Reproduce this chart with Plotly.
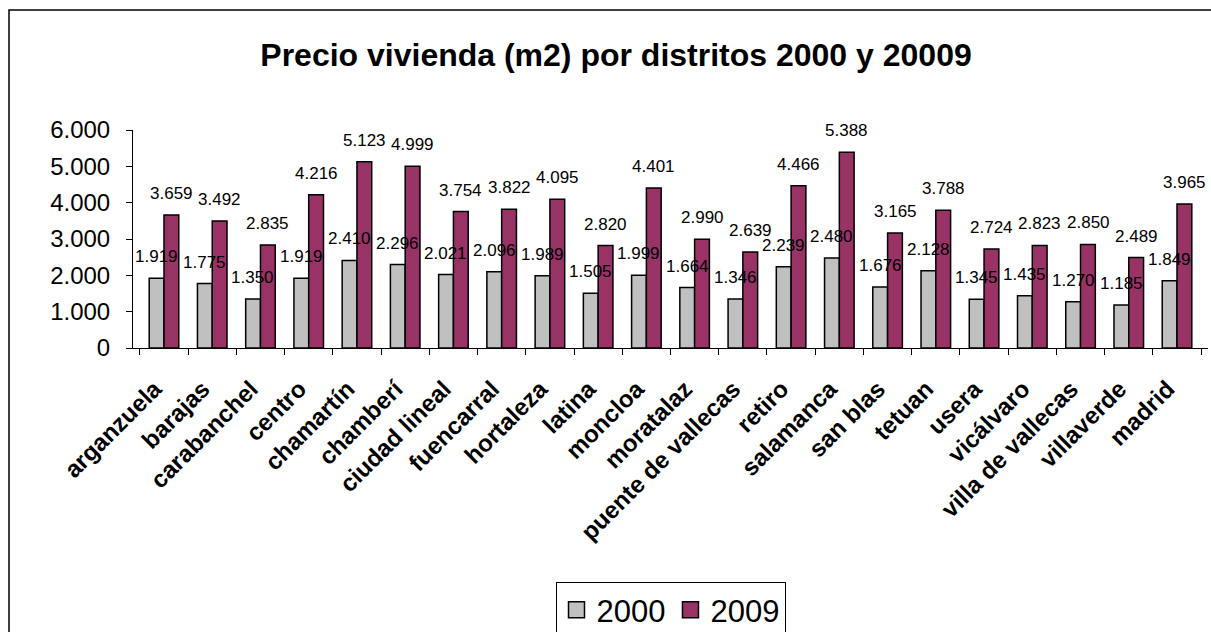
import plotly.graph_objects as go

distritos = ["arganzuela", "barajas", "carabanchel", "centro", "chamartín", "chamberí",
             "ciudad lineal", "fuencarral", "hortaleza", "latina", "moncloa", "moratalaz",
             "puente de vallecas", "retiro", "salamanca", "san blas", "tetuan", "usera",
             "vicálvaro", "villa de vallecas", "villaverde", "madrid"]
precio_2000 = [1919, 1775, 1350, 1919, 2410, 2296, 2021, 2096, 1989, 1505, 1999, 1664,
               1346, 2239, 2480, 1676, 2128, 1345, 1435, 1270, 1185, 1849]
precio_2009 = [3659, 3492, 2835, 4216, 5123, 4999, 3754, 3822, 4095, 2820, 4401, 2990,
               2639, 4466, 5388, 3165, 3788, 2724, 2823, 2850, 2489, 3965]
series = [("2000", precio_2000, "#C0C0C0"), ("2009", precio_2009, "#993366")]

W, H = 1211, 632
L, R, T, B = 133, 3, 130, 284
pw = W - L - R
ph = H - T - B
BARGAP = 0.387
cat_w = pw / len(distritos)
bar_w = cat_w * (1 - BARGAP) / 2

fig = go.Figure()
for name, vals, col in series:
    fig.add_trace(go.Bar(
        x=distritos, y=vals, name=name, legendgroup=name, showlegend=False,
        marker=dict(color=col, line=dict(color="#000000", width=1.5)),
        cliponaxis=False,
    ))
# legend entries with larger square swatches
for name, vals, col in series:
    fig.add_trace(go.Scatter(
        x=[None], y=[None], mode="markers", name=name, legendgroup=name,
        marker=dict(symbol="square", size=19, color=col,
                    line=dict(color="#000000", width=1.5)),
    ))

annotations = []
for (name, vals, col), sh in zip(series, [-bar_w / 2, bar_w / 2]):
    for d, v in zip(distritos, vals):
        annotations.append(dict(
            x=d, y=v, xref="x", yref="y", text=f"{v:,}".replace(",", "."),
            showarrow=False, xanchor="center", yanchor="bottom",
            xshift=sh, yshift=10,
            font=dict(family="Arial, Liberation Sans", size=17, color="#000000"),
        ))

fig.update_layout(
    width=W, height=H,
    margin=dict(l=L, r=R, t=T, b=B, autoexpand=False),
    paper_bgcolor="white", plot_bgcolor="white",
    separators=",.",
    barmode="group", bargap=BARGAP, bargroupgap=0,
    font=dict(family="Arial, Liberation Sans", color="#000000"),
    title=dict(text="<b>Precio vivienda (m2) por distritos 2000 y 20009</b>",
               x=616 / W, xanchor="center", xref="container",
               y=1 - 55 / H, yanchor="middle", yref="container",
               font=dict(size=32, color="#000000")),
    xaxis=dict(
        tickangle=-45, tickfont=dict(size=24, color="#000000", family="Arial, Liberation Sans"),
        tickson="boundaries", ticks="outside", ticklen=6, tickcolor="#000000",
        showline=True, linecolor="#000000", linewidth=1, showgrid=False,
        tickprefix="<b>", ticksuffix="\u00a0\u00a0</b>", automargin=False,
        ticklabelstandoff=7,
    ),
    yaxis=dict(
        range=[0, 6000], dtick=1000, tickformat=",.0f",
        ticks="outside", ticklen=6, tickcolor="#000000",
        showline=True, linecolor="#000000", linewidth=1, showgrid=False,
        tickfont=dict(size=24, color="#000000"), automargin=False,
        ticklabelstandoff=11,
    ),
    showlegend=True,
    legend=dict(orientation="h", x=0.5, xanchor="center",
                y=(T + ph - 582) / ph, yanchor="top",
                bordercolor="#000000", borderwidth=1, bgcolor="white",
                font=dict(size=31, color="#000000"), itemwidth=30,
                itemsizing="trace", traceorder="normal"),
    annotations=annotations,
    shapes=[dict(type="rect", xref="paper", yref="paper",
                 x0=(9 - L) / pw, x1=(W + 5 - L) / pw,
                 y0=(T + ph - (H + 5)) / ph, y1=(T + ph - 10) / ph,
                 line=dict(color="#000000", width=1.5), fillcolor="rgba(0,0,0,0)",
                 layer="below")],
)

fig.write_html("out.html", config={"displayModeBar": False},
               post_script="document.body.style.margin='0px';document.body.style.overflow='hidden';")
